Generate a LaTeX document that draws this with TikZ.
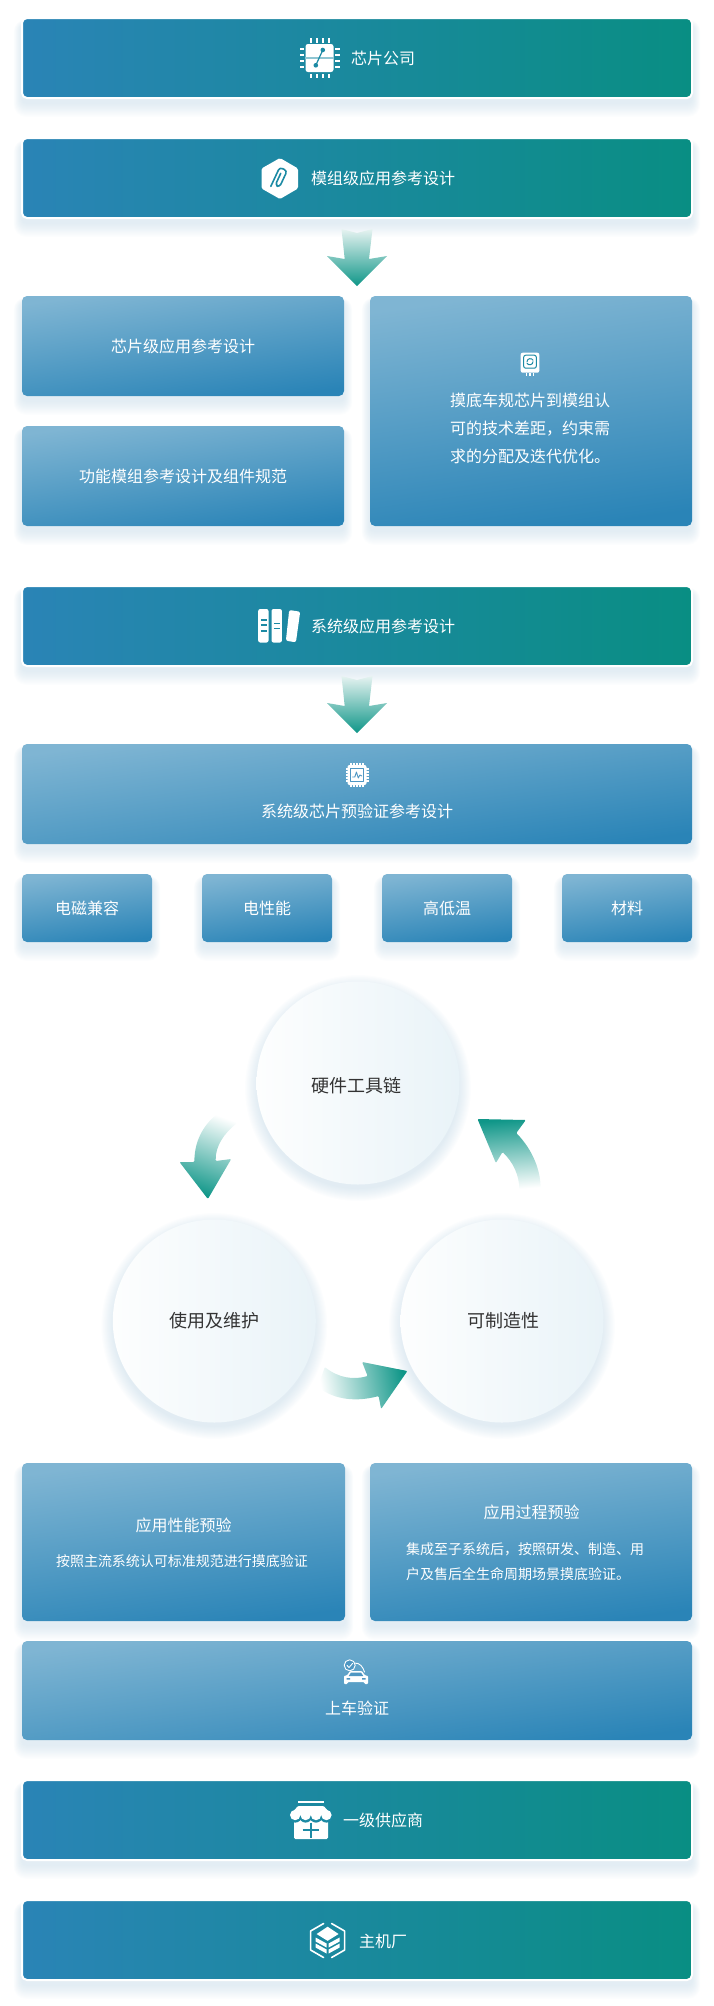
\documentclass[tikz,border=0pt]{standalone}
\usepackage{fontspec}
\setmainfont{Noto Sans CJK SC}
\definecolor{darkleft}{HTML}{2A84B6}
\definecolor{darkright}{HTML}{098E83}
\definecolor{lighttop}{HTML}{7FB5D3}
\definecolor{lightbottom}{HTML}{2A84B7}
\definecolor{shadowblue}{HTML}{A9C8DC}
\definecolor{arrowteal}{HTML}{0F9688}
\definecolor{arrowmid}{HTML}{6FBDB3}
\definecolor{arrowpale}{HTML}{E6F3F1}
\definecolor{icontint}{HTML}{1C8AA4}
\definecolor{iconsky}{HTML}{4F97C3}
\definecolor{ringleft}{HTML}{FDFEFE}
\definecolor{ringright}{HTML}{E9F3F8}
\tikzset{
	darkpanel/.style={draw=white, line width=2, rounded corners=5, left color=darkleft, right color=darkright},
	lightpanel/.style={rounded corners=5, top color=lighttop, bottom color=lightbottom, shading angle=8},
	boxtext/.style={text=white, inner sep=0, font=\fontsize{16}{16}\selectfont},
	smalltext/.style={text=white, inner sep=0, font=\fontsize{14}{25}\selectfont},
	ringnode/.style={circle, inner sep=0, minimum size=203, left color=ringleft, right color=ringright},
	ringtext/.style={text=black!80, inner sep=0, font=\fontsize{18}{18}\selectfont},
}
\begin{document}
\begin{tikzpicture}[x=1pt, y=-1pt, line join=round, line cap=round]
	\useasboundingbox (0,0) rectangle (714,2006);
	\newcommand{\softshadow}[4]{
		\foreach \s in {1,...,14} {
			\fill[shadowblue, opacity=.028, rounded corners=\s*.6+4] (#1-\s*.6,#2+7-\s*.4) rectangle (#3+\s*.6,#4+5+\s);
		}
	}
	\newcommand{\panel}[7]{
		\softshadow{#2}{#3}{#4}{#5}
		\pgfmathsetmacro{\cx}{(#2+#4)/2}
		\pgfmathsetmacro{\cy}{(#3+#5)/2}
		\pgfmathsetmacro{\panelw}{#4-#2}
		\pgfmathsetmacro{\panelh}{#5-#3}
		\node[#6, boxtext, minimum width=\panelw, minimum height=\panelh] (#1) at (\cx,\cy) {#7};
	}
	\newcommand{\ringshadow}[2]{
		\foreach \s in {1,...,13} {
			\fill[shadowblue, opacity=.03] (#1,#2+5) circle (100+\s);
		}
	}
	\newcommand{\downarrowshape}[1]{
		\begin{scope}[yshift=-#1, xshift=-1]
			\shade[top color=arrowpale, bottom color=arrowteal]
				(342.5,229) -- (358,233) -- (373.5,229) -- (370,259) -- (388,256) -- (358,286) -- (328,256) -- (345.7,259) -- cycle;
		\end{scope}
	}
	% ============= KHỐI TRÊN
	\panel{company}{22}{18}{692}{98}{darkpanel}{}
	\panel{module}{22}{138}{692}{218}{darkpanel}{}
	\panel{chiplevel}{22}{296}{344}{396}{lightpanel}{芯片级应用参考设计}
	\panel{funcspec}{22}{426}{344}{526}{lightpanel}{功能模组参考设计及组件规范}
	\panel{gapnote}{370}{296}{692}{526}{lightpanel}{}
	\panel{system}{22}{586}{692}{666}{darkpanel}{}
	\panel{preverify}{22}{744}{692}{844}{lightpanel}{}
	\panel{emc}{22}{874}{152}{942}{lightpanel}{电磁兼容}
	\panel{elec}{202}{874}{332}{942}{lightpanel}{电性能}
	\panel{temp}{382}{874}{512}{942}{lightpanel}{高低温}
	\panel{material}{562}{874}{692}{942}{lightpanel}{材料}
	\node[boxtext] (companytext) at (383,58) {芯片公司};
	\node[boxtext] (moduletext) at (383,178) {模组级应用参考设计};
	\node[boxtext, anchor=west, align=left, font=\fontsize{16}{28}\selectfont] (gaptext) at (450,428) {摸底车规芯片到模组认\\可的技术差距，约束需\\求的分配及迭代优化。};
	\node[boxtext] (systemtext) at (383,626) {系统级应用参考设计};
	\node[boxtext] (preverifytext) at (357,811) {系统级芯片预验证参考设计};
	\downarrowshape{0}
	\downarrowshape{447}
	% ============= VÒNG TRÒN
	\ringshadow{358}{1083}
	\ringshadow{214.3}{1321}
	\ringshadow{502}{1321}
	\node[ringnode] (toolchain) at (358,1083) {};
	\node[ringnode] (upkeep) at (214.3,1321) {};
	\node[ringnode] (making) at (502,1321) {};
	\node[ringtext] (toolchaintext) at (356.5,1085.5) {硬件工具链};
	\node[ringtext] (upkeeptext) at (214.3,1321) {使用及维护};
	\node[ringtext] (makingtext) at (503.5,1321) {可制造性};
	\shade[top color=white, middle color=arrowmid, bottom color=arrowteal, shading angle=-20, rounded corners=1]
		(222.9,1110) .. controls (204.4,1122) and (194.4,1140) .. (194.4,1162) -- (179.5,1162) -- (207.9,1199) -- (231.2,1159) -- (215.7,1161) .. controls (215.3,1146) and (224.3,1133) .. (237.2,1123) -- cycle;
	\shade[top color=arrowteal, middle color=arrowmid, bottom color=white, shading angle=5, rounded corners=1]
		(540.7,1190) .. controls (540.7,1170) and (532.7,1150) .. (516.3,1133) -- (525.8,1120) -- (477.5,1119) -- (495.9,1163) -- (502.5,1152) .. controls (512.9,1162) and (519.3,1175) .. (519.3,1190) -- cycle;
	\shade[left color=white, middle color=arrowmid, right color=arrowteal, shading angle=100, rounded corners=1]
		(324.8,1367) .. controls (338.7,1378) and (353.6,1380) .. (367.6,1376) -- (362.1,1362) -- (407.4,1371) -- (381.1,1409) -- (378.6,1396) .. controls (356.6,1402) and (334.8,1400) .. (317.8,1387) -- cycle;
	% ============= KHỐI DƯỚI
	\panel{perform}{22}{1463}{345}{1621}{lightpanel}{}
	\panel{process}{370}{1463}{692}{1621}{lightpanel}{}
	\panel{onboard}{22}{1641}{692}{1740}{lightpanel}{}
	\panel{supplier}{22}{1780}{692}{1860}{darkpanel}{}
	\panel{maker}{22}{1900}{692}{1980}{darkpanel}{}
	\node[boxtext] (performhead) at (183.5,1525) {应用性能预验};
	\node[smalltext] (performtext) at (182,1561) {按照主流系统认可标准规范进行摸底验证};
	\node[boxtext] (processhead) at (531.5,1512) {应用过程预验};
	\node[smalltext, anchor=west, align=left] (processtext) at (406,1561.5) {集成至子系统后，按照研发、制造、用\\户及售后全生命周期场景摸底验证。};
	\node[boxtext] (onboardtext) at (357,1708) {上车验证};
	\node[boxtext] (suppliertext) at (383,1820) {一级供应商};
	\node[boxtext] (makertext) at (383,1941) {主机厂};
	% ============= BIỂU TƯỢNG
	\begin{scope}[shift={(319.5,58)}]
		\fill[white, rounded corners=2.5] (-14,-14) rectangle (14,14);
		\foreach \p in {-9,-3,3,9} {
			\fill[white] (\p-1,-20) rectangle (\p+1,-15.5);
			\fill[white] (\p-1,15.5) rectangle (\p+1,20);
			\fill[white] (-20,\p-1) rectangle (-15.5,\p+1);
			\fill[white] (15.5,\p-1) rectangle (20,\p+1);
		}
		\draw[icontint!50, line width=1.4] (-14,0) -- (14,0);
		\draw[icontint, line width=1.2] (3.3,-8) -- (-3.7,7.3);
		\fill[icontint] (3.3,-8) circle (2.3) (-3.7,7.3) circle (2.3);
	\end{scope}
	\begin{scope}[shift={(280,178.5)}]
		\fill[white, rounded corners=1.5] (0,-20.5) -- (18,-10) -- (18,10) -- (0,20.5) -- (-18.5,10) -- (-18.5,-10) -- cycle;
		\begin{scope}[rotate=-25]
			\draw[icontint, line width=1.6, rounded corners=3] (-1.5,-5) -- (-1.5,8) -- (3.2,8) -- (3.2,-10) -- (-5,-10) -- (-5,11);
		\end{scope}
	\end{scope}
	\begin{scope}[shift={(530,362.7)}]
		\fill[white, rounded corners=2] (-9.3,-10) rectangle (9.3,10);
		\foreach \p in {-3.5,0,3.5} {\fill[white] (\p-.6,10) rectangle (\p+.6,13.5);}
		\draw[icontint, line width=1, rounded corners=2] (-6.3,-7.5) rectangle (6.3,5.5);
		\draw[icontint, line width=1] (-3,-1) .. controls (-3,-4.5) and (2,-5) .. (3,-2.5) (3,-1) .. controls (3,2.5) and (-2,3) .. (-3,.5);
	\end{scope}
	\begin{scope}[shift={(-.8,0)}]
		\fill[white, rounded corners=2] (259,609) rectangle (269.3,642.5);
		\fill[white, rounded corners=2] (272.3,609) rectangle (282.7,642.5);
		\fill[white, rounded corners=2] (290,610) -- (301,611.7) -- (296.7,642.3) -- (286.7,640.7) -- cycle;
		\foreach \q in {620,625,630.7} {\draw[icontint, line width=1.6, line cap=butt] (261.7,\q) -- (267.7,\q);}
		\foreach \q in {623.3,628.3} {\draw[icontint, line width=1.6, line cap=butt] (274.7,\q) -- (280.7,\q);}
	\end{scope}
	\begin{scope}[shift={(357,775)}]
		\foreach \p in {-6,-3,0,3,6} {
			\fill[white] (\p-.6,-12) rectangle (\p+.6,-9);
			\fill[white] (\p-.6,9) rectangle (\p+.6,12);
			\fill[white] (-11.5,\p-.6) rectangle (-8.5,\p+.6);
			\fill[white] (8.5,\p-.6) rectangle (11.5,\p+.6);
		}
		\fill[white, rounded corners=2] (-9.5,-10) rectangle (9.5,10);
		\draw[iconsky, line width=.9] (-6.3,-6.5) rectangle (6.3,6.5);
		\draw[iconsky, line width=.9] (-4.5,2) -- (-2.2,2) -- (-.6,-3) -- (1.3,3) -- (2.8,0) -- (4.8,1);
	\end{scope}
	\begin{scope}[shift={(-1,0)}]
		\draw[white, line width=.9] (355,1663) .. controls (361,1662.5) and (364,1667) .. (365.5,1672);
		\fill[white, rounded corners=1] (345,1675.5) -- (348,1675.5) -- (351,1671) -- (363,1671) -- (366,1675.5) -- (369,1675.5) -- (369,1684) -- (365.5,1684) -- (365.5,1682) -- (348.5,1682) -- (348.5,1684) -- (345,1684) -- cycle;
		\fill[iconsky] (352,1672.6) -- (362,1672.6) -- (364.3,1676) -- (349.7,1676) -- cycle;
		\fill[iconsky] (347.5,1678) rectangle (351,1679.5) (363,1678) rectangle (366.5,1679.5);
		\draw[white, line width=.9, fill=iconsky] (350.7,1665.3) circle (5.5);
		\draw[white, line width=.9] (348,1665.3) -- (350,1667.5) -- (353.5,1663.5);
	\end{scope}
	\begin{scope}[shift={(-1,0)}]
		\fill[white, rounded corners=1.5] (295,1816) rectangle (329,1839);
		\foreach \c in {296.2,306.6,317,327.4} {\fill[icontint] (\c,1816) circle (6.6);}
		\fill[white, rounded corners=1] (299,1806) -- (324.7,1806) -- (332.7,1815) -- (291,1815) -- cycle;
		\foreach \c in {296.2,306.6,317,327.4} {\fill[white] (\c,1815) circle (5.2);}
		\fill[white] (299,1801) rectangle (324.7,1802.7);
		\draw[icontint, line width=1.6, line cap=butt] (303.5,1830) -- (320,1830) (311.7,1822.5) -- (311.7,1837.5);
	\end{scope}
	\begin{scope}[shift={(327.6,1940.5)}]
		\draw[white, line width=1.6] (-4,-17) -- (-17,-9.5) -- (-17,9.5) -- (-4,17) (4,-17) -- (17,-9.5) -- (17,9.5) -- (4,17);
		\fill[white] (0,-13.8) -- (11,-6.5) -- (0,.3) -- (-11,-6.5) -- cycle;
		\foreach \d in {0,6} {
			\fill[white] (-12,-3+\d) -- (-1,3+\d) -- (-1,7+\d) -- (-12,1+\d) -- cycle;
			\fill[white] (12,-3+\d) -- (1,3+\d) -- (1,7+\d) -- (12,1+\d) -- cycle;
		}
	\end{scope}
\end{tikzpicture}
\end{document}
